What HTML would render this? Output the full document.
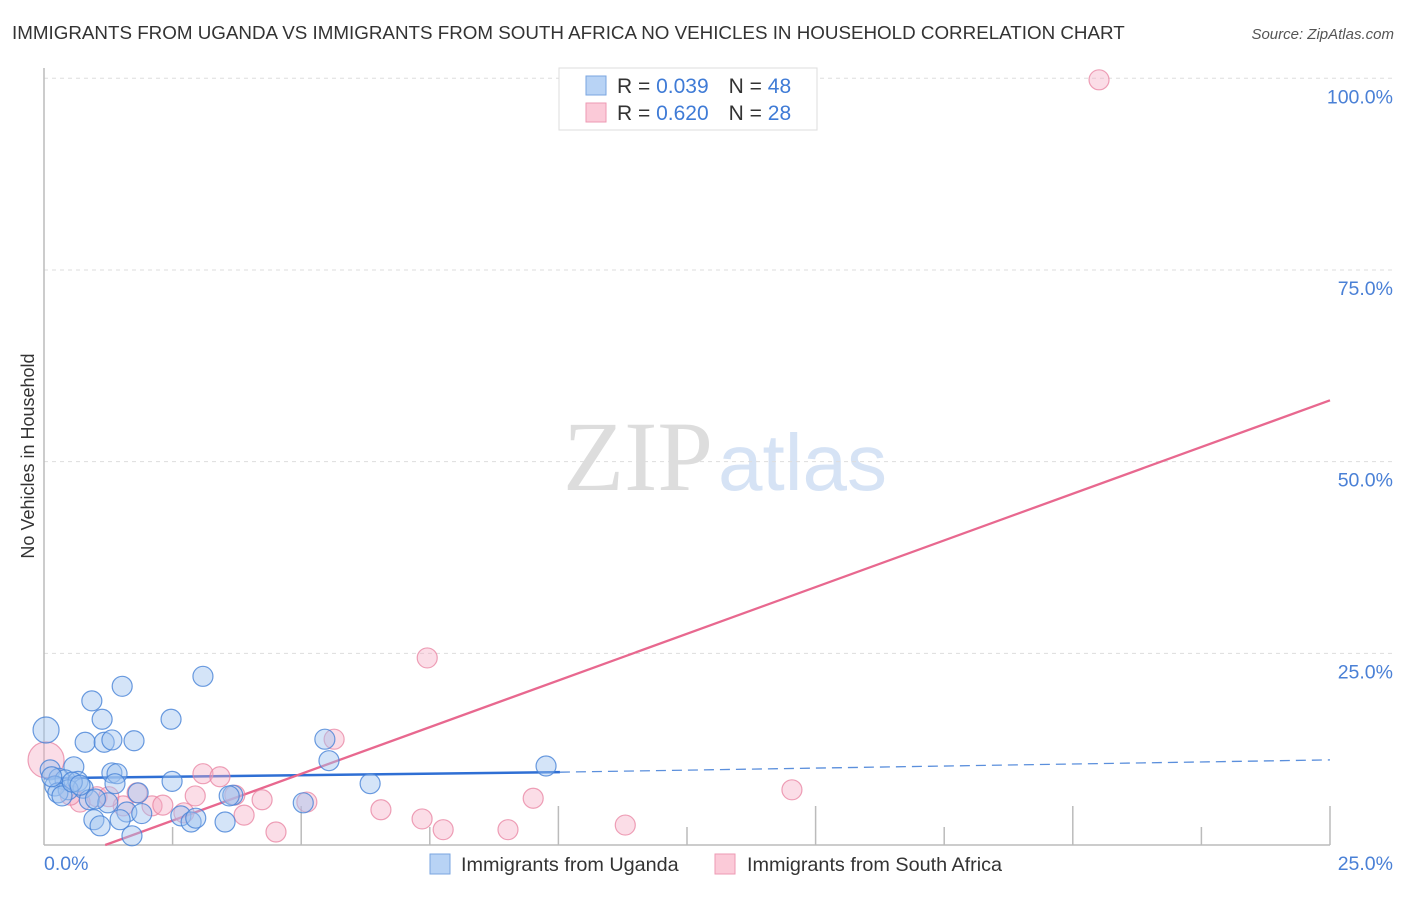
<!DOCTYPE html>
<html><head><meta charset="utf-8"><style>
body{margin:0;background:#fff;font-family:"Liberation Sans",sans-serif}
</style></head><body>
<svg width="1406" height="892" viewBox="0 0 1406 892" style="font-family:'Liberation Sans',sans-serif">
<text x="12" y="39" font-size="18.8" fill="#333">IMMIGRANTS FROM UGANDA VS IMMIGRANTS FROM SOUTH AFRICA NO VEHICLES IN HOUSEHOLD CORRELATION CHART</text>
<text x="1394" y="39" font-size="15" fill="#555" font-style="italic" text-anchor="end">Source: ZipAtlas.com</text>
<text x="713" y="490" font-size="100" fill="#ddd" style="font-family:'Liberation Serif',serif" text-anchor="end">ZIP</text>
<text x="718" y="490" font-size="80" fill="#d6e3f5">atlas</text>
<g id="grid"></g>
<g id="axes"></g>
<text transform="translate(34,456) rotate(-90)" font-size="18" fill="#333" text-anchor="middle">No Vehicles in Household</text>
<g id="lines"></g>
<g id="points"></g>
<g>
<rect x="559" y="68" width="258" height="62" fill="#fff" stroke="#ddd"/>
<rect x="586" y="76" width="20" height="19" fill="#b8d3f5" stroke="#7aa6e0"/>
<text x="617" y="93" font-size="21" fill="#333"><tspan>R = </tspan><tspan fill="#3f7bd6">0.039</tspan><tspan dx="20">N = </tspan><tspan fill="#3f7bd6">48</tspan></text>
<rect x="586" y="103" width="20" height="19" fill="#fbcad8" stroke="#ee9ab3"/>
<text x="617" y="120" font-size="21" fill="#333"><tspan>R = </tspan><tspan fill="#3f7bd6">0.620</tspan><tspan dx="20">N = </tspan><tspan fill="#3f7bd6">28</tspan></text>
</g>
<g>
<rect x="430" y="854" width="20" height="20" fill="#b8d3f5" stroke="#7aa6e0"/>
<text x="461" y="871" font-size="19.8" fill="#333">Immigrants from Uganda</text>
<rect x="715" y="854" width="20" height="20" fill="#fbcad8" stroke="#ee9ab3"/>
<text x="747" y="871" font-size="19.8" fill="#333">Immigrants from South Africa</text>
</g>
<script>
const yTicks=[25,50,75,100];
const yTickLabels=["25.0%","50.0%","75.0%","100.0%"];
const xTickLabels=["0.0%","25.0%"];
const ugX=[0.04,0.93,1.52,3.09,1.13,2.47,0.80,1.17,1.32,1.75,5.46,5.54,9.76,0.58,0.12,1.32,1.42,0.29,0.41,0.66,2.49,1.38,6.34,0.21,0.76,0.47,1.83,3.67,0.27,0.88,1.24,5.04,1.61,2.66,0.97,1.48,2.86,3.52,1.09,1.71,0.35,0.55,0.70,1.00,2.95,3.60,0.15,1.90];
const ugY=[15.0,18.8,20.7,22.0,16.4,16.4,13.4,13.4,13.7,13.6,13.8,11.0,10.3,10.2,9.8,9.4,9.3,8.7,8.5,8.3,8.3,8.0,8.0,7.7,7.4,7.2,6.8,6.5,6.8,5.9,5.5,5.5,4.3,3.8,3.3,3.3,3.0,3.0,2.5,1.2,6.4,8.2,7.8,6.0,3.5,6.4,8.9,4.1];
const ugR=[13,10,10,10,10,10,10,10,10,10,10,10,10,10,10,10,10,10,10,10,10,10,10,10,10,10,10,10,10,10,10,10,10,10,10,10,10,10,10,10,10,10,10,10,10,10,10,10];
const saX=[20.51,7.45,5.64,0.04,3.09,3.42,14.54,9.51,5.11,4.24,2.94,1.81,1.03,0.70,1.54,2.10,2.31,6.55,3.89,2.72,7.35,4.51,7.76,9.02,11.30,1.26,3.71,0.51];
const saY=[99.8,24.4,13.8,11.1,9.3,8.9,7.2,6.1,5.6,5.9,6.4,6.8,6.3,5.6,5.1,5.1,5.2,4.6,3.9,4.2,3.4,1.7,2.0,2.0,2.6,6.3,6.5,6.5];
const saR=[10,10,10,18,10,10,10,10,10,10,10,10,10,10,10,10,10,10,10,10,10,10,10,10,10,10,10,10];
const ugTrend=[0,8.7,10.03,9.5,25,11.1];
const saTrend=[1.19,0,25,58.0];
const X=v=>44+v/25*1286, Y=v=>845-v/100*766.7;
const NS="http://www.w3.org/2000/svg";
function mk(tag,attrs,parent){const e=document.createElementNS(NS,tag);for(const k in attrs)e.setAttribute(k,attrs[k]);document.getElementById(parent).appendChild(e);return e;}
yTicks.forEach((t,i)=>{
 const l=mk('line',{x1:44,x2:1394,y1:Y(t),y2:Y(t),stroke:'#ddd','stroke-dasharray':'4,4'},'grid');
 
 
 const tx=mk('text',{x:1393,y:Y(t)+25,'font-size':19.5,fill:'#4a80d6','text-anchor':'end'},'axes');
 tx.textContent=yTickLabels[i];
 
 
});
const ya=mk('line',{x1:44,x2:44,y1:68,y2:845,stroke:'#bbb','stroke-width':1.5},'axes');


const xa=mk('line',{x1:44,x2:1330,y1:845,y2:845,stroke:'#bbb','stroke-width':1.5},'axes');


for(let i=1;i<=10;i++){const v=i*2.5;
 const tk=mk('line',{x1:X(v),x2:X(v),y1:(i%2?827:806),y2:845,stroke:'#bbb','stroke-width':1.5},'axes');
 
 
}
[[0,44,'start'],[25,1393,'end']].forEach((a,i)=>{
 const t=mk('text',{x:a[1],y:870,'font-size':19.5,fill:'#4a80d6','text-anchor':a[2]},'axes');
 t.textContent=xTickLabels[i];
 
 
});
saX.forEach((v,i)=>{
 const c=mk('circle',{cx:X(v),cy:Y(saY[i]),r:saR[i],fill:'rgba(246,170,194,0.4)',stroke:'rgba(232,130,160,0.75)','stroke-width':1.2},'points');
 
 
});
ugX.forEach((v,i)=>{
 const c=mk('circle',{cx:X(v),cy:Y(ugY[i]),r:ugR[i],fill:'rgba(160,196,240,0.45)',stroke:'rgba(70,130,215,0.8)','stroke-width':1.2},'points');
 
 
});
const l1=mk('line',{x1:X(ugTrend[0]),y1:Y(ugTrend[1]),x2:X(ugTrend[2]),y2:Y(ugTrend[3]),stroke:'#2f6fd4','stroke-width':2.5},'lines');


const l2=mk('line',{x1:X(ugTrend[2]),y1:Y(ugTrend[3]),x2:X(ugTrend[4]),y2:Y(ugTrend[5]),stroke:'#5b8fdc','stroke-width':1.3,'stroke-dasharray':'10,6'},'lines');


const l3=mk('line',{x1:X(saTrend[0]),y1:Y(saTrend[1]),x2:X(saTrend[2]),y2:Y(saTrend[3]),stroke:'#e8688f','stroke-width':2.3},'lines');


</script>
</svg>
</body></html>
